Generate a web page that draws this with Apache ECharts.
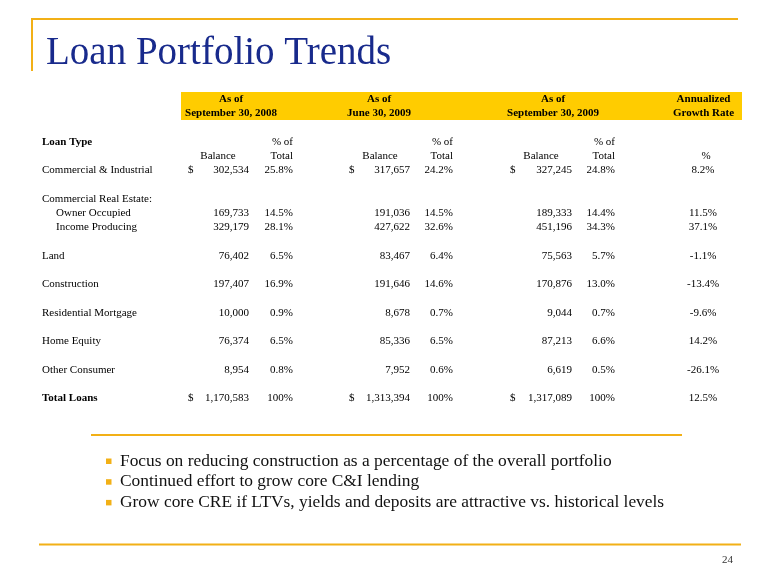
<!DOCTYPE html>
<html>
<head>
<meta charset="utf-8">
<script src="https://cdn.jsdelivr.net/npm/echarts@6/dist/echarts.min.js"></script>
<style>html,body{margin:0;padding:0;background:#fff}#c{width:780px;height:585px}</style>
</head>
<body>
<div id="c"></div>
<script>
// ---------- data ----------
const title = 'Loan Portfolio Trends';
const periodTop = ['As of', 'As of', 'As of', 'Annualized'];
const periodBottom = ['September 30, 2008', 'June 30, 2009', 'September 30, 2009', 'Growth Rate'];
const loanTypes = ['Commercial & Industrial', 'Commercial Real Estate:', 'Owner Occupied', 'Income Producing',
  'Land', 'Construction', 'Residential Mortgage', 'Home Equity', 'Other Consumer', 'Total Loans'];
const bal2008 = [302534, null, 169733, 329179, 76402, 197407, 10000, 76374, 8954, 1170583];
const pct2008 = [25.8, null, 14.5, 28.1, 6.5, 16.9, 0.9, 6.5, 0.8, 100];
const balJun2009 = [317657, null, 191036, 427622, 83467, 191646, 8678, 85336, 7952, 1313394];
const pctJun2009 = [24.2, null, 14.5, 32.6, 6.4, 14.6, 0.7, 6.5, 0.6, 100];
const balSep2009 = [327245, null, 189333, 451196, 75563, 170876, 9044, 87213, 6619, 1317089];
const pctSep2009 = [24.8, null, 14.4, 34.3, 5.7, 13.0, 0.7, 6.6, 0.5, 100];
const growthRate = [8.2, null, 11.5, 37.1, -1.1, -13.4, -9.6, 14.2, -26.1, 12.5];
const bullets = [
  'Focus on reducing construction as a percentage of the overall portfolio',
  'Continued effort to grow core C&I lending',
  'Grow core CRE if LTVs, yields and deposits are attractive vs. historical levels'
];
const pageNumber = '24';

// ---------- layout ----------
const FONT = "'Liberation Serif','Times New Roman',serif";
const ORANGE = '#F2B016';
const NLINES = 22;
const rowLine = [5, 7, 8, 9, 11, 13, 15, 17, 19, 21];
const indented = [false, false, true, true, false, false, false, false, false, false];
const boldRow = [false, false, false, false, false, false, false, false, false, true];
const dollarRow = [true, false, false, false, false, false, false, false, false, true];
const colHeadCenter = [231, 379, 553, 703.5];
const balRight = [249, 410, 572];
const pctRight = [293, 453, 615];
const dollarLeft = [188, 349, 510];
const balHeadCenter = [218, 380, 541];
const growthCenter = 703;

const fmtNum = v => v.toLocaleString('en-US');
const fmtPct = v => (v === 100 ? '100' : v.toFixed(1)) + '%';

// build cells
const cells = [];
function cell(x, line, text, align, bold) { cells.push({ x, line, text, align, bold: !!bold }); }
for (let c = 0; c < 4; c++) {
  cell(colHeadCenter[c], 0, periodTop[c], 'center', true);
  cell(colHeadCenter[c], 1, periodBottom[c], 'center', true);
}
cell(42, 3, 'Loan Type', 'left', true);
for (let c = 0; c < 3; c++) {
  cell(pctRight[c], 3, '% of', 'right');
  cell(pctRight[c], 4, 'Total', 'right');
  cell(balHeadCenter[c], 4, 'Balance', 'center');
}
cell(706, 4, '%', 'center');
const bals = [bal2008, balJun2009, balSep2009];
const pcts = [pct2008, pctJun2009, pctSep2009];
loanTypes.forEach((name, i) => {
  const ln = rowLine[i];
  cell(indented[i] ? 56 : 42, ln, name, 'left', boldRow[i]);
  for (let c = 0; c < 3; c++) {
    if (bals[c][i] != null) {
      if (dollarRow[i]) cell(dollarLeft[c], ln, '$', 'left');
      cell(balRight[c], ln, fmtNum(bals[c][i]), 'right');
      cell(pctRight[c], ln, fmtPct(pcts[c][i]), 'right');
    }
  }
  if (growthRate[i] != null) cell(growthCenter, ln, fmtPct(growthRate[i]), 'center');
});

const lines = Array.from({ length: NLINES }, (_, i) => 'L' + i);

const chart = echarts.init(document.getElementById('c'), null, { renderer: 'canvas' });

const graphics = [
  { type: 'line', shape: { x1: 32, y1: 19, x2: 738, y2: 19 }, style: { stroke: ORANGE, lineWidth: 2 } },
  { type: 'line', shape: { x1: 32, y1: 18, x2: 32, y2: 71 }, style: { stroke: ORANGE, lineWidth: 2 } },
  { type: 'text', x: 46, y: 73, style: { text: title, font: '39px ' + FONT, fill: '#182A8C', textAlign: 'left', textVerticalAlign: 'bottom' } },
  { type: 'rect', shape: { x: 181, y: 92, width: 561, height: 28 }, style: { fill: '#FFCC00' }, z: -1 },
  { type: 'line', shape: { x1: 91, y1: 435, x2: 682, y2: 435 }, style: { stroke: ORANGE, lineWidth: 2 } },
  { type: 'line', shape: { x1: 39, y1: 544.5, x2: 741, y2: 544.5 }, style: { stroke: ORANGE, lineWidth: 2 } },
  { type: 'text', x: 733, y: 560, style: { text: pageNumber, font: '11px ' + FONT, fill: '#333', textAlign: 'right', textVerticalAlign: 'middle' } }
];
bullets.forEach((b, i) => {
  const y = 461 + i * 20.7;
  graphics.push({ type: 'rect', shape: { x: 106, y: y - 2.5, width: 5.5, height: 5.5 }, style: { fill: ORANGE } });
  graphics.push({ type: 'text', x: 120, y: y, style: { text: b, font: '17.4px ' + FONT, fill: '#111', textAlign: 'left', textVerticalAlign: 'middle' } });
});

chart.setOption({
  animation: false,
  backgroundColor: '#fff',
  grid: { left: 0, right: 0, top: 91.8, bottom: 179.5 },
  xAxis: { type: 'value', min: 0, max: 780, show: false },
  yAxis: { type: 'category', data: lines, inverse: true, show: false },
  graphic: graphics,
  series: [{
    type: 'custom',
    name: 'table',
    coordinateSystem: 'cartesian2d',
    data: cells.map(c => [c.x, c.line]),
    renderItem: function (params, api) {
      const c = cells[params.dataIndex];
      const p = api.coord([api.value(0), api.value(1)]);
      return {
        type: 'text',
        x: p[0], y: p[1],
        style: {
          text: c.text,
          font: (c.bold ? 'bold ' : '') + '11px ' + FONT,
          fill: '#000',
          textAlign: c.align,
          textVerticalAlign: 'middle'
        }
      };
    }
  }]
});
</script>
</body>
</html>
